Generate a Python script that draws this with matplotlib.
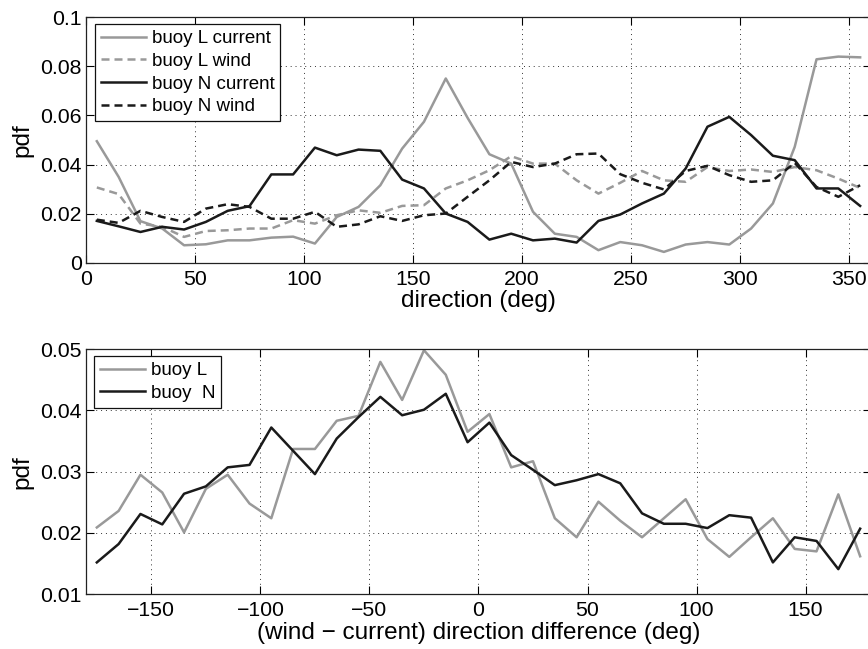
import numpy as np
import matplotlib
matplotlib.use("Agg")
import matplotlib.pyplot as plt
from matplotlib.ticker import FormatStrFormatter

# =========================================================
# DATA
# =========================================================

direction = np.arange(5, 360, 10)

l_current = [
    0.0495, 0.035, 0.017, 0.014, 0.0072, 0.0076, 0.0092, 0.0092, 0.0103,
    0.0107, 0.0079, 0.0187, 0.0228, 0.0316, 0.0465, 0.0574, 0.075, 0.059,
    0.0442, 0.0404, 0.0208, 0.0119, 0.0106, 0.0052, 0.0085, 0.0072, 0.0045,
    0.0075, 0.0085, 0.0075, 0.014, 0.0242, 0.0472, 0.0828, 0.0839, 0.0836
]

l_wind = [
    0.0307, 0.028, 0.016, 0.0147, 0.0106, 0.013, 0.0133, 0.014, 0.014,
    0.0174, 0.016, 0.0194, 0.0214, 0.0204, 0.0232, 0.0235, 0.0303, 0.0336,
    0.0377, 0.0434, 0.0404, 0.0404, 0.0336, 0.0282, 0.0326, 0.0374, 0.0336,
    0.033, 0.039, 0.0374, 0.038, 0.037, 0.039, 0.0377, 0.0343, 0.0305
]

n_current = [
    0.0171, 0.0149, 0.0126, 0.0147, 0.0136, 0.0167, 0.0212, 0.0231, 0.036,
    0.036, 0.0469, 0.0438, 0.0461, 0.0456, 0.0339, 0.0303, 0.0201, 0.0167,
    0.0095, 0.0119, 0.0092, 0.0099, 0.0083, 0.0171, 0.0197, 0.0242, 0.0282,
    0.0384, 0.0554, 0.0594, 0.052, 0.0436, 0.0418, 0.0303, 0.0303, 0.0232
]

n_wind = [
    0.0176, 0.0163, 0.0212, 0.0187, 0.0167, 0.0221, 0.0239, 0.0228, 0.018,
    0.018, 0.0208, 0.0147, 0.0157, 0.019, 0.0171, 0.0194, 0.0201, 0.0269,
    0.0336, 0.0411, 0.039, 0.0404, 0.0442, 0.0445, 0.0361, 0.0326, 0.0299,
    0.0374, 0.0395, 0.0357, 0.033, 0.0336, 0.0407, 0.0309, 0.0269, 0.0316
]

difference = np.arange(-175, 180, 10)

l_diff = [
    0.0209, 0.0236, 0.0295, 0.0266, 0.0201, 0.0272, 0.0295, 0.0248, 0.0224,
    0.0337, 0.0337, 0.0383, 0.0391, 0.0479, 0.0417, 0.0498, 0.0458, 0.0365,
    0.0394, 0.0307, 0.0317, 0.0224, 0.0193, 0.0251, 0.022, 0.0193, 0.0224,
    0.0255, 0.019, 0.0161, 0.0193, 0.0224, 0.0174, 0.017, 0.0263, 0.0162
]

n_diff = [
    0.0152, 0.0182, 0.0231, 0.0214, 0.0264, 0.0276, 0.0307, 0.0311, 0.0372,
    0.0334, 0.0296, 0.0354, 0.0389, 0.0422, 0.0392, 0.0401, 0.0427, 0.0348,
    0.038, 0.0327, 0.0303, 0.0278, 0.0286, 0.0296, 0.0281, 0.0232, 0.0215,
    0.0215, 0.0208, 0.0229, 0.0225, 0.0152, 0.0193, 0.0187, 0.0141, 0.0207
]

# =========================================================
# STYLE
# =========================================================

plt.rcParams["font.family"] = ["Liberation Sans", "DejaVu Sans"]

GRAY = "#999999"
BLACK = "#1a1a1a"
LW = 1.8
DASH = (0, (3.2, 2.0))


def matlab_axes(ax):

    ax.tick_params(
        direction="in",
        top=True,
        right=True,
        length=5.5,
        width=0.8,
        labelsize=15.3,
        pad=5
    )
    ax.tick_params(axis="y", pad=3)

    ax.grid(
        True,
        linestyle=(0, (1, 4)),
        linewidth=0.7,
        color="#333333"
    )

    for spine in ax.spines.values():
        spine.set_linewidth(0.9)
        spine.set_color("#222222")


def add_legend(ax, anchor):

    leg = ax.legend(
        loc="upper left",
        bbox_to_anchor=anchor,
        borderaxespad=0,
        fontsize=13.5,
        frameon=True,
        fancybox=False,
        framealpha=1,
        edgecolor="#111111",
        handlelength=2.4,
        handletextpad=0.3,
        labelspacing=0.3,
        borderpad=0.32
    )
    leg.get_frame().set_linewidth(0.9)


fig = plt.figure(figsize=(8.68, 6.49), dpi=100)

# =========================================================
# TOP PANEL: DIRECTION PDFS
# =========================================================

ax1 = fig.add_axes([0.099, 0.5948, 0.9045, 0.379])

ax1.plot(direction, l_current, color=GRAY, lw=LW, label="buoy L current")
ax1.plot(direction, l_wind, color=GRAY, lw=LW, linestyle=DASH, label="buoy L wind")
ax1.plot(direction, n_current, color=BLACK, lw=LW, label="buoy N current")
ax1.plot(direction, n_wind, color=BLACK, lw=LW, linestyle=DASH, label="buoy N wind")

ax1.set_xlim(0, 360)
ax1.set_ylim(0, 0.1)
ax1.set_xticks(np.arange(0, 351, 50))
ax1.set_yticks(np.arange(0, 0.101, 0.02))
ax1.yaxis.set_major_formatter(FormatStrFormatter("%g"))

ax1.set_xlabel("direction (deg)", fontsize=17.5, labelpad=1)
ax1.set_ylabel("pdf", fontsize=17.5, labelpad=5)

matlab_axes(ax1)
add_legend(ax1, (0.0115, 0.9715))

# =========================================================
# BOTTOM PANEL: WIND - CURRENT DIFFERENCE
# =========================================================

ax2 = fig.add_axes([0.099, 0.0843, 0.9045, 0.3779])

ax2.plot(difference, l_diff, color=GRAY, lw=LW, label="buoy L")
ax2.plot(difference, n_diff, color=BLACK, lw=LW, label="buoy  N")

ax2.set_xlim(-180, 180)
ax2.set_ylim(0.01, 0.05)
ax2.set_xticks(np.arange(-150, 151, 50))
ax2.set_yticks(np.arange(0.01, 0.0501, 0.01))
ax2.yaxis.set_major_formatter(FormatStrFormatter("%g"))

ax2.set_xlabel("(wind \u2212 current) direction difference (deg)", fontsize=17.5, labelpad=1)
ax2.set_ylabel("pdf", fontsize=17.5, labelpad=5)

matlab_axes(ax2)
add_legend(ax2, (0.0102, 0.971))

fig.savefig("out.png", dpi=100)
